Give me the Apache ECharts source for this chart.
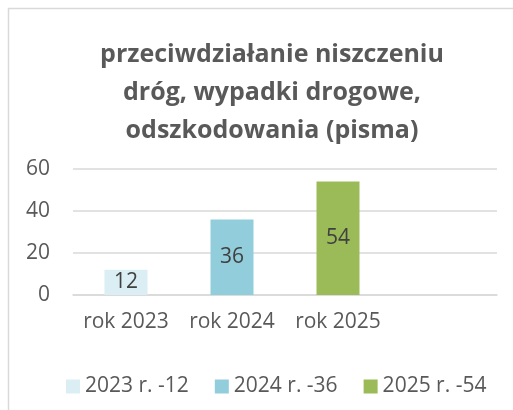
<!DOCTYPE html>
<html>
<head>
<meta charset="utf-8">
<script src="https://cdn.jsdelivr.net/npm/echarts@6/dist/echarts.min.js"></script>
<style>
  html, body { margin: 0; padding: 0; background: #fff; }
  #chart { width: 513px; height: 410px; }
</style>
</head>
<body>
<div id="chart"></div>
<script>
// dane z wykresu
const categories = ['rok 2023', 'rok 2024', 'rok 2025']
const seriesNames = ['2023 r. -12', '2024 r. -36', '2025 r. -54']
const values = [12, 36, 54]
const colors = ['#DAEEF3', '#92CDDC', '#9BBB59']
const yTicks = [0, 20, 40, 60]

const titleText = 'przeciwdziałanie niszczeniu\ndróg, wypadki drogowe,\nodszkodowania (pisma)'

const myChart = echarts.init(document.getElementById('chart'))

// each series holds one value in its own category
const series = seriesNames.map((name, i) => ({
  name: name,
  type: 'bar',
  stack: 'total',
  barWidth: 43,
  itemStyle: { color: colors[i] },
  label: {
    show: true,
    position: 'inside',
    color: '#404040',
    fontSize: 21,
    fontFamily: 'Open Sans',
  },
  data: categories.map((c, j) => (j === i ? values[i] : '-')),
}))

const option = {
  backgroundColor: '#fff',
  animation: false,
  title: {
    text: titleText,
    left: 267,
    top: 31,
    textAlign: 'center',
    textStyle: {
      color: '#595959',
      fontSize: 25,
      fontWeight: 'bold',
      fontFamily: 'Open Sans',
      lineHeight: 38,
    },
  },
  graphic: [
    {
      type: 'rect',
      shape: { x: 8.5, y: 8.5, width: 520, height: 420 },
      style: { fill: 'none', stroke: '#d9d9d9', lineWidth: 1.5 },
      silent: true,
    },
  ],
  legend: {
    left: 61,
    top: 371,
    icon: 'rect',
    itemWidth: 14,
    itemHeight: 14,
    itemGap: 26,
    textStyle: { color: '#595959', fontSize: 21, fontFamily: 'Open Sans' },
    data: seriesNames,
  },
  grid: { left: 73, right: 16, top: 169, bottom: 115 },
  xAxis: {
    type: 'category',
    data: categories,
    max: 3,
    axisTick: { show: false },
    axisLine: { lineStyle: { color: '#d9d9d9', width: 1.5 } },
    axisLabel: { color: '#595959', fontSize: 21, fontFamily: 'Open Sans', margin: 17, interval: 0 },
  },
  yAxis: {
    type: 'value',
    min: yTicks[0],
    max: yTicks[yTicks.length - 1],
    interval: 20,
    axisLine: { show: false },
    axisTick: { show: false },
    splitLine: { lineStyle: { color: '#d9d9d9', width: 1.5 } },
    axisLabel: { color: '#595959', fontSize: 21, fontFamily: 'Open Sans', margin: 23 },
  },
  series: series,
}

myChart.setOption(option)
</script>
</body>
</html>
